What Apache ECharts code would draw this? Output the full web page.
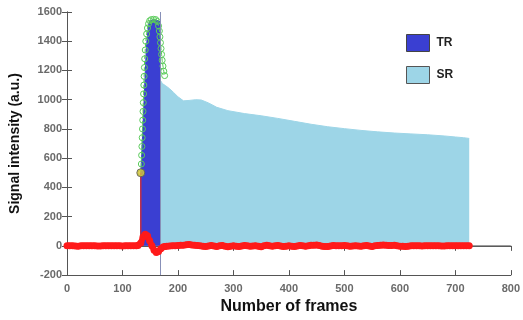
<!DOCTYPE html>
<html><head><meta charset="utf-8">
<script src="https://cdn.jsdelivr.net/npm/echarts@6/dist/echarts.min.js"></script>
<style>html,body{margin:0;padding:0;background:#fff}#c{width:523px;height:320px}</style>
</head><body><div id="c"></div>
<script>
// x ticks / y ticks
var xTicks = [0,100,200,300,400,500,600,700,800];
var yTicks = [-200,0,200,400,600,800,1000,1200,1400,1600];
// TR area (transit region): [frame, intensity]
var trData = [[133,0],[133,500],[135,650],[137,820],[139,1000],[141,1180],[143,1350],[145,1440],[147,1510],[149,1540],[152,1548],[156,1548],[160,1545],[164,1540],[168,1535],[168,0]];
// SR area (steady region)
var srData = [[168,1135],[172,1110],[178,1095],[185,1075],[192,1050],[200,1020],[210,992],[220,995],[232,1000],[242,998],[255,978],[270,948],[290,925],[320,905],[350,890],[380,872],[410,852],[440,832],[470,815],[500,802],[530,790],[560,780],[590,772],[620,766],[650,760],[680,752],[700,745],[715,740],[725,735]];
// green fitted curve circles
var fitData = [[133,500],[134,560],[134.5,620],[135,680],[135.5,740],[136,800],[136.5,860],[137,920],[137.5,980],[138,1040],[138.5,1100],[139,1160],[139.5,1220],[140,1280],[141,1340],[142,1400],[143.5,1450],[145,1490],[147,1520],[149,1540],[152,1548],[156,1550],[160,1548],[163,1535],[165,1505],[166.5,1470],[167.5,1430],[168.5,1390],[169.5,1350],[170.5,1310],[171.5,1270],[173,1230],[174.5,1195],[176,1165]];
// red residual curve
var resData = [[0,0],[5,0],[10,0],[15,-1],[20,-2],[25,0],[30,0],[35,1],[40,1],[45,0],[50,0],[55,-1],[60,-1],[65,0],[70,0],[75,1],[80,1],[85,0],[90,0],[95,0],[100,-1],[105,0],[110,0],[115,1],[120,1],[125,1],[128,2],[133,20],[137,60],[141,80],[145,70],[149,35],[153,0],[157,-30],[161,-45],[165,-38],[169,-20],[173,-8],[176,-5],[180,-3],[185,-1],[190,0],[195,1],[200,2],[205,4],[210,5],[215,8],[220,10],[225,6],[230,4],[235,2],[240,0],[245,-3],[250,-5],[255,-1],[260,2],[265,-1],[270,-4],[275,0],[280,3],[285,-2],[290,-6],[295,-3],[300,0],[305,-2],[310,-5],[315,-1],[320,2],[325,0],[330,-3],[335,-1],[340,0],[345,-3],[350,-6],[355,0],[360,5],[365,1],[370,-2],[375,0],[380,3],[385,-1],[390,-5],[395,-2],[400,0],[405,-2],[410,-4],[415,-1],[420,2],[425,0],[430,-3],[435,0],[440,4],[445,5],[450,6],[455,2],[460,-2],[465,-4],[470,-5],[475,-1],[480,2],[485,1],[490,0],[495,1],[500,3],[505,0],[510,-3],[515,-1],[520,0],[525,-1],[530,-2],[535,0],[540,2],[545,-1],[550,-4],[555,0],[560,3],[565,4],[570,6],[575,4],[580,2],[585,3],[590,5],[595,1],[600,-2],[605,-3],[610,-4],[615,-2],[620,0],[625,0],[630,1],[635,0],[640,-1],[645,0],[650,0],[655,1],[660,1],[665,0],[670,0],[675,-1],[680,-1],[685,0],[690,0],[695,1],[700,1],[705,0],[710,0],[715,0],[720,0],[725,0]];
var onsetPoint = [[133,500]];
var zeroLine = [[0,0],[800,0]];

var chart = echarts.init(document.getElementById('c'));
var FF = 'Liberation Sans, Arial, sans-serif';
var tickLbl = {color:'#6a6a6a',fontWeight:'bold',fontSize:11,fontFamily:FF,formatter:function(v){return String(v);}};
chart.setOption({
  animation:false,
  grid:{left:67,right:11,top:12,bottom:32},
  legend:{
    orient:'vertical', left:401, top:29, itemWidth:23, itemHeight:17, itemGap:14,
    textStyle:{fontWeight:'bold',fontSize:12,color:'#222',fontFamily:FF,padding:[0,0,0,2]},
    data:[{name:'TR',icon:'rect',itemStyle:{color:'#3a3fd2',borderColor:'#444',borderWidth:1}},
          {name:'SR',icon:'rect',itemStyle:{color:'#9dd5e7',borderColor:'#555',borderWidth:1}}]
  },
  xAxis:[{type:'value',min:0,max:800,interval:100,position:'bottom',
    axisLine:{onZero:false,lineStyle:{color:'#555',width:1}},
    axisTick:{inside:true,length:5,lineStyle:{color:'#555'}},
    splitLine:{show:false},axisLabel:tickLbl,
    name:'Number of frames',nameLocation:'middle',nameGap:22,
    nameTextStyle:{fontWeight:'bold',fontSize:16,color:'#111',fontFamily:FF}},
    {type:'value',min:0,max:800,interval:100,position:'top',
    axisLine:{show:true,lineStyle:{color:'#555'}},axisTick:{inside:true,length:5,lineStyle:{color:'#555'}},
    axisLabel:{show:false},splitLine:{show:false}}],
  yAxis:[{type:'value',min:-200,max:1600,interval:200,position:'left',
    axisLine:{show:true,onZero:false,lineStyle:{color:'#555'}},
    axisTick:{show:true,inside:true,length:5,lineStyle:{color:'#555'}},
    splitLine:{show:false},axisLabel:Object.assign({margin:5},tickLbl),
    name:'Signal intensity (a.u.)',nameLocation:'middle',nameGap:45,
    nameTextStyle:{fontWeight:'bold',fontSize:14,color:'#111',fontFamily:FF}},
    {type:'value',min:-200,max:1600,interval:200,position:'right',
    axisLine:{show:true,lineStyle:{color:'#555'}},axisTick:{show:true,inside:true,length:5,lineStyle:{color:'#555'}},
    axisLabel:{show:false},splitLine:{show:false}}],
  series:[
    {name:'zero',type:'line',data:zeroLine,symbol:'none',lineStyle:{color:'#666',width:1},z:1},
    {name:'SR',type:'line',data:srData,symbol:'none',lineStyle:{color:'#9dd5e7',width:1},
     areaStyle:{color:'#9dd5e7',opacity:1},itemStyle:{color:'#9dd5e7'},z:2},
    {name:'TR',type:'line',data:trData,symbol:'none',lineStyle:{color:'#3a3fd2',width:1},
     areaStyle:{color:'#3a3fd2',opacity:1},itemStyle:{color:'#3a3fd2'},z:3,
     markLine:{silent:true,symbol:'none',label:{show:false},lineStyle:{color:'#8890b8',width:1,type:'solid'},data:[{xAxis:168}]}},
    {name:'fit',type:'line',data:fitData,symbol:'circle',symbolSize:6,showSymbol:true,
     lineStyle:{color:'#55cc55',width:1,type:'dashed'},
     itemStyle:{color:'rgba(255,255,255,0)',borderColor:'#5acb5a',borderWidth:1},z:4},
    {name:'edge',type:'line',data:[[133,0],[133,500]],symbol:'none',lineStyle:{color:'#c0304a',width:1.5},z:4},
    {name:'res',type:'line',data:resData,symbol:'circle',symbolSize:7,showSymbol:true,
     lineStyle:{color:'#ff1a1a',width:6},itemStyle:{color:'#ff1a1a'},z:5},
    {name:'onset',type:'scatter',data:onsetPoint,symbol:'circle',symbolSize:8,
     itemStyle:{color:'#d8c23a',borderColor:'#555',borderWidth:1},z:6}
  ]
});
</script></body></html>
